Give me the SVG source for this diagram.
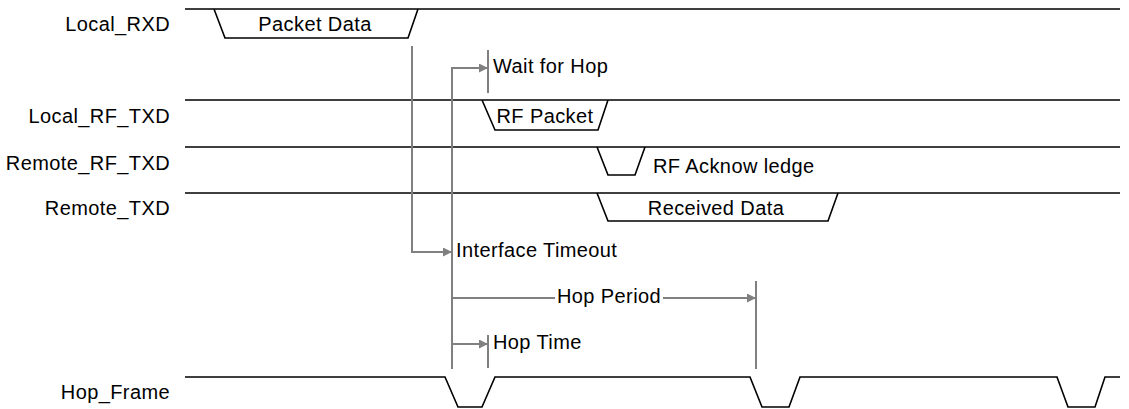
<svg xmlns="http://www.w3.org/2000/svg" width="1129" height="409" viewBox="0 0 1129 409">
<style>
.lbl{font-family:"Liberation Sans",Arial,sans-serif;font-size:20px;fill:#000;letter-spacing:0.4px}
.end{text-anchor:end}
.mid{text-anchor:middle}
.sig{fill:none;stroke:#000;stroke-width:1.6}
.g{fill:none;stroke:#808080;stroke-width:2}
</style>
<defs>
<marker id="ah" viewBox="0 0 10 10" refX="10" refY="5" markerWidth="11" markerHeight="9" markerUnits="userSpaceOnUse" orient="auto">
<path d="M0,0 L10,5 L0,10 z" fill="#808080"/>
</marker>
</defs>
<rect width="1129" height="409" fill="#fff"/>
<g id="local_rxd">
<text class="lbl end" x="170" y="31">Local_RXD</text>
<path class="sig" d="M185,9 H1120 M214,9 L225,38 H408 L418,9"/>
<text class="lbl mid" x="315" y="31">Packet Data</text>
</g>
<g id="local_rf_txd">
<text class="lbl end" x="170" y="123">Local_RF_TXD</text>
<path class="sig" d="M185,100 H1120 M482,100 L495,130 H598 L608,100"/>
<text class="lbl mid" x="545" y="123">RF Packet</text>
</g>
<g id="remote_rf_txd">
<text class="lbl end" x="170" y="170">Remote_RF_TXD</text>
<path class="sig" d="M185,147 H1120 M597,147 L608,175 H635 L645,147"/>
<text class="lbl" x="653" y="173">RF Acknow ledge</text>
</g>
<g id="remote_txd">
<text class="lbl end" x="170" y="215">Remote_TXD</text>
<path class="sig" d="M185,193 H1120 M597,193 L608,221 H828 L838,193"/>
<text class="lbl mid" x="716" y="215">Received Data</text>
</g>
<g id="hop_frame">
<text class="lbl end" x="170" y="399">Hop_Frame</text>
<path class="sig" d="M185,377 H445 L458,407 H482 L495,377 H750 L762,407 H789 L800,377 H1057 L1068,407 H1095 L1105,377 H1120"/>
</g>
<g id="connectors">
<path class="g" d="M412,46 V252 H452" marker-end="url(#ah)"/>
<path class="g" d="M452,369 V68 H488" marker-end="url(#ah)"/>
<path class="g" d="M488,50 V93"/>
<path class="g" d="M452,298 H555"/>
<path class="g" d="M663,298 H756" marker-end="url(#ah)"/>
<path class="g" d="M756,281 V369"/>
<path class="g" d="M452,344 H488" marker-end="url(#ah)"/>
<path class="g" d="M488,335 V368"/>
</g>
<g id="annotations">
<text class="lbl" x="493" y="73">Wait for Hop</text>
<text class="lbl" x="456" y="257">Interface Timeout</text>
<text class="lbl" x="557" y="303">Hop Period</text>
<text class="lbl" x="493" y="349">Hop Time</text>
</g>
</svg>
